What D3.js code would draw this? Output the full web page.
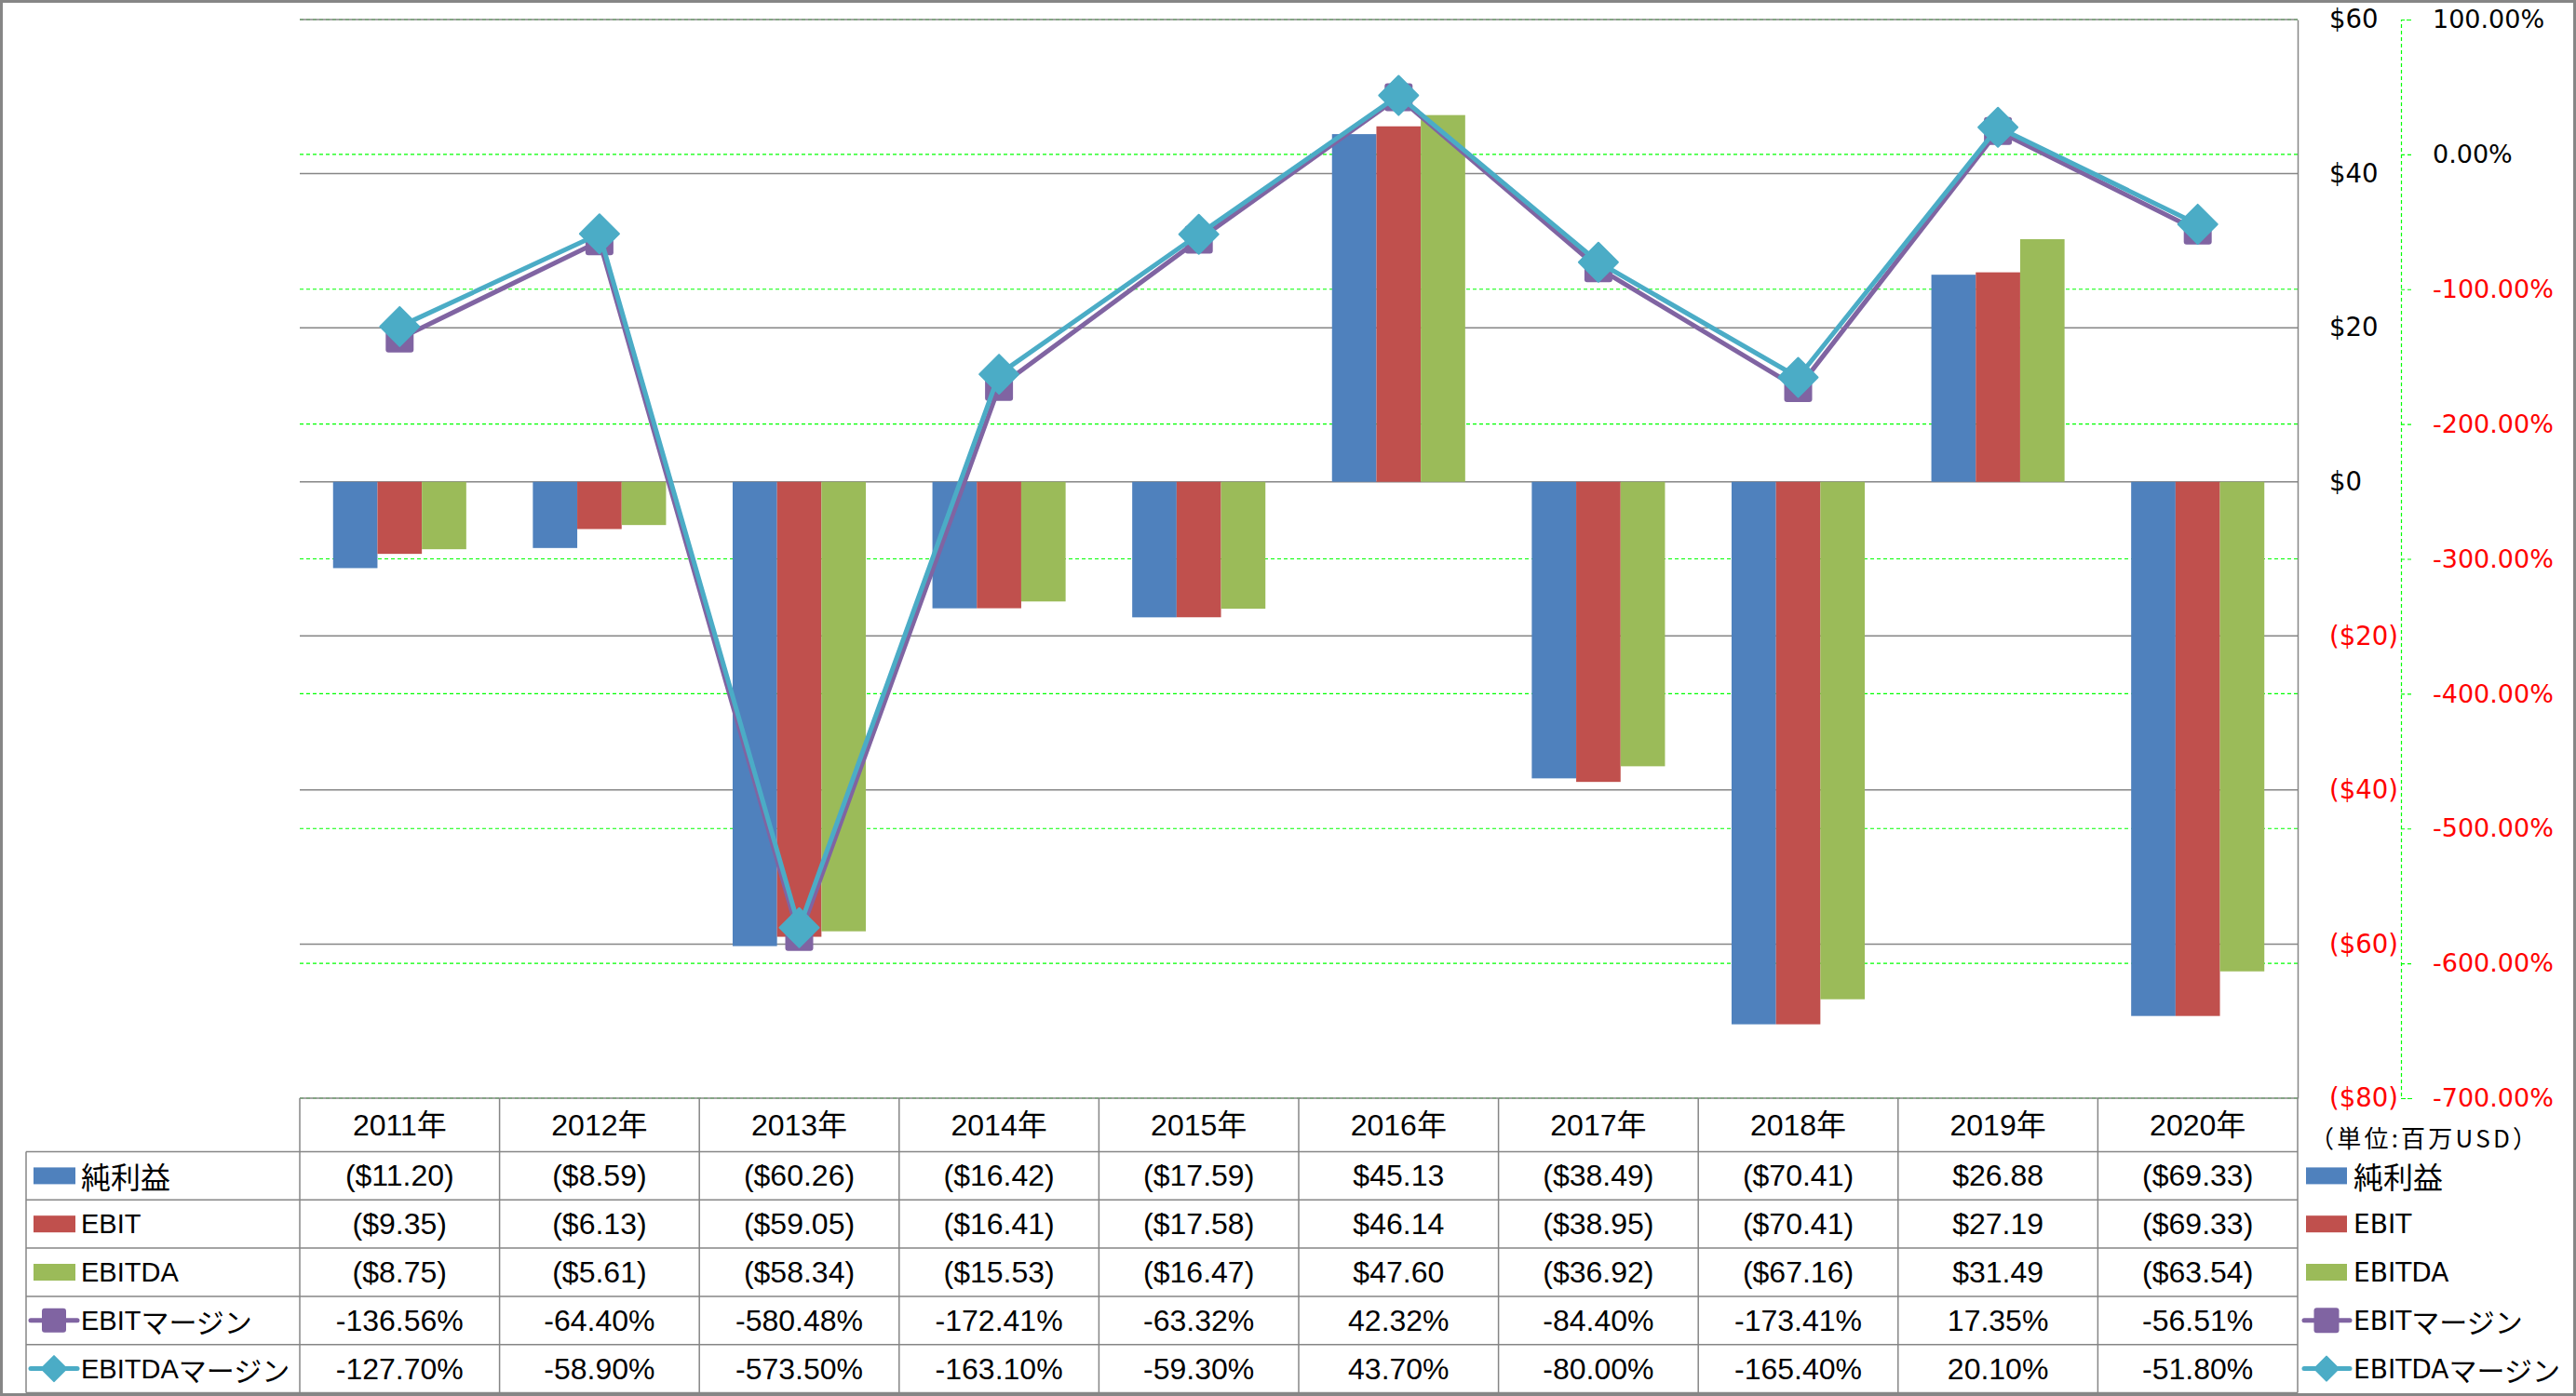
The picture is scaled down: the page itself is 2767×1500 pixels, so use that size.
<!DOCTYPE html>
<html>
<head>
<meta charset="utf-8">
<script src="https://cdn.jsdelivr.net/npm/d3@7"></script>
<style>
  html, body { margin: 0; padding: 0; background: #fff; }
  svg { display: block; }
</style>
</head>
<body>
<svg id="chart" width="2767" height="1500"></svg>
<script>
// ---------------- DATA ----------------
const categories = ['2011年','2012年','2013年','2014年','2015年','2016年','2017年','2018年','2019年','2020年'];
const netIncome   = [-11.20, -8.59, -60.26, -16.42, -17.59, 45.13, -38.49, -70.41, 26.88, -69.33];
const ebit        = [-9.35, -6.13, -59.05, -16.41, -17.58, 46.14, -38.95, -70.41, 27.19, -69.33];
const ebitda      = [-8.75, -5.61, -58.34, -15.53, -16.47, 47.60, -36.92, -67.16, 31.49, -63.54];
const ebitMargin   = [-136.56, -64.40, -580.48, -172.41, -63.32, 42.32, -84.40, -173.41, 17.35, -56.51];
const ebitdaMargin = [-127.70, -58.90, -573.50, -163.10, -59.30, 43.70, -80.00, -165.40, 20.10, -51.80];
const barSeriesNames  = ['純利益', 'EBIT', 'EBITDA'];
const lineSeriesNames = ['EBITマージン', 'EBITDAマージン'];
const dollarTicks = [60, 40, 20, 0, -20, -40, -60, -80];
const pctTicks = [100, 0, -100, -200, -300, -400, -500, -600, -700];
const unitLabel = '（単位:百万USD）';

// ---------------- STYLE ----------------
const barColors = ['#4F81BD', '#C0504D', '#9BBB59'];
const lineColors = ['#8064A2', '#4BACC6'];
const gray = '#868686';
const green = '#00FF00';
const tableFont = '"Liberation Sans", Arial, "Noto Sans CJK JP", sans-serif';
const axisFont = '"DejaVu Sans", Verdana, "Noto Sans CJK JP", sans-serif';
const cjkFont = '"Noto Sans CJK JP", sans-serif';

const svg = d3.select('#chart');
const plotL = 322, plotR = 2468, plotT = 21, plotB = 1180;

const x = d3.scaleBand().domain(categories).range([plotL, plotR]).paddingInner(0).paddingOuter(0);
const xSub = d3.scaleBand().domain([0, 1, 2]).range([0, x.bandwidth()]).paddingInner(0).paddingOuter(0.75);
const y = d3.scaleLinear().domain([-80, 60]).range([plotB, plotT]);
const yp = d3.scaleLinear().domain([-700, 100]).range([plotB, plotT]);

// outer border
svg.append('rect').attr('x', 1.5).attr('y', 1.5).attr('width', 2764).attr('height', 1497)
  .attr('fill', '#fff').attr('stroke', gray).attr('stroke-width', 3);

// gridlines (secondary, dashed green)
svg.append('g').selectAll('line').data(pctTicks).join('line')
  .attr('x1', plotL).attr('x2', plotR)
  .attr('y1', d => yp(d)).attr('y2', d => yp(d))
  .attr('stroke', green).attr('stroke-width', 1.2).attr('stroke-dasharray', '4,3');

// gridlines (primary, gray)
svg.append('g').selectAll('line').data(dollarTicks.filter(d => d !== -80)).join('line')
  .attr('x1', plotL).attr('x2', plotR)
  .attr('y1', d => y(d)).attr('y2', d => y(d))
  .attr('stroke', gray).attr('stroke-width', 1.5);

// bars
const barData = [netIncome, ebit, ebitda];
const gBars = svg.append('g');
barData.forEach((series, si) => {
  gBars.append('g').selectAll('rect').data(series).join('rect')
    .attr('x', (d, i) => x(categories[i]) + xSub(si))
    .attr('width', xSub.bandwidth())
    .attr('y', d => Math.min(y(d), y(0)))
    .attr('height', d => Math.abs(y(d) - y(0)))
    .attr('fill', barColors[si]);
});

// lines
const lineData = [ebitMargin, ebitdaMargin];
const lineGen = d3.line().x((d, i) => x(categories[i]) + x.bandwidth() / 2).y(d => yp(d));
function marker(g, type, cx, cy, size, color) {
  if (type === 0) {
    g.append('rect').attr('x', cx - size / 2).attr('y', cy - size / 2)
      .attr('width', size).attr('height', size).attr('rx', 3).attr('fill', color);
  } else {
    const h = size / 2;
    g.append('path').attr('d', `M${cx},${cy - h}L${cx + h},${cy}L${cx},${cy + h}L${cx - h},${cy}Z`)
      .attr('fill', color).attr('stroke', color).attr('stroke-width', 2).attr('stroke-linejoin', 'round');
  }
}
lineData.forEach((series, si) => {
  const g = svg.append('g');
  g.append('path').datum(series).attr('d', lineGen)
    .attr('fill', 'none').attr('stroke', lineColors[si]).attr('stroke-width', 5)
    .attr('stroke-linejoin', 'round');
  series.forEach((d, i) => {
    marker(g, si, x(categories[i]) + x.bandwidth() / 2, yp(d), si === 0 ? 30 : 42, lineColors[si]);
  });
});

// primary axis (right, $)
const fmtDollar = v => v < 0 ? `($${Math.abs(v)})` : `$${v}`;
const axY = svg.append('g').attr('transform', `translate(${plotR},0)`)
  .call(d3.axisRight(y).tickValues(dollarTicks).tickFormat(fmtDollar).tickSize(0).tickPadding(34));
axY.select('.domain').attr('stroke', gray).attr('stroke-width', 1.5);
axY.selectAll('text').attr('font-family', axisFont).attr('font-size', 27.5)
  .attr('fill', d => d < 0 ? '#FF0000' : '#000');

// secondary axis (right, %)
const axP = svg.append('g').attr('transform', `translate(2579,0)`)
  .call(d3.axisRight(yp).tickValues(pctTicks).tickFormat(v => `${v.toFixed(2)}%`).tickSize(12).tickPadding(22));
axP.select('.domain').attr('stroke', green).attr('stroke-width', 1.2).attr('stroke-dasharray', '4,3');
axP.selectAll('line').attr('stroke', green).attr('stroke-width', 1.2).attr('stroke-dasharray', '4,3');
axP.selectAll('text').attr('font-family', axisFont).attr('font-size', 27)
  .attr('fill', d => d < 0 ? '#FF0000' : '#000');

// unit label
svg.append('text').attr('x', 2481).attr('y', 1221).attr('dominant-baseline', 'central')
  .attr('font-family', cjkFont).attr('font-size', 26)
  .attr('textLength', 244).attr('lengthAdjust', 'spacing').text(unitLabel);

// mixed-script text: Latin run in latinFont, kanji / kana runs in CJK font
function mixedText(g, tx, ty, str, latinFont, latinSize) {
  const t = g.append('text').attr('x', tx).attr('y', ty).attr('dominant-baseline', 'central');
  const runs = str.match(/[\u4E00-\u9FFF]+|[\u3040-\u30FF]+|[^\u3040-\u30FF\u4E00-\u9FFF]+/g);
  runs.forEach(r => {
    const s = t.append('tspan').text(r);
    if (/[\u4E00-\u9FFF]/.test(r)) s.attr('font-family', cjkFont).attr('font-size', 32);
    else if (/[\u3040-\u30FF]/.test(r)) s.attr('font-family', cjkFont).attr('font-size', 30);
    else s.attr('font-family', latinFont).attr('font-size', latinSize);
  });
  return t;
}

// ---------------- DATA TABLE ----------------
const rowTop = 1237.5, rowH = 51.8, headTop = plotB;
const rowYs = d3.range(6).map(i => rowTop + i * rowH);
const gT = svg.append('g');
gT.append('line').attr('x1', plotL).attr('x2', plotR).attr('y1', headTop).attr('y2', headTop)
  .attr('stroke', gray).attr('stroke-width', 1.5);
rowYs.forEach(yy => gT.append('line').attr('x1', 28).attr('x2', plotR).attr('y1', yy).attr('y2', yy)
  .attr('stroke', gray).attr('stroke-width', 1.5));
gT.append('line').attr('x1', 28).attr('x2', 28).attr('y1', rowTop).attr('y2', rowYs[5])
  .attr('stroke', gray).attr('stroke-width', 1.5);
const colEdges = categories.map(c => x(c)).concat([plotR]);
colEdges.forEach(cx => gT.append('line').attr('x1', cx).attr('x2', cx).attr('y1', headTop).attr('y2', rowYs[5])
  .attr('stroke', gray).attr('stroke-width', 1.5));

// header
gT.selectAll('text.head').data(categories).join('text').attr('class', 'head')
  .attr('x', d => x(d) + x.bandwidth() / 2).attr('y', (headTop + rowTop) / 2)
  .attr('text-anchor', 'middle').attr('dominant-baseline', 'central')
  .attr('font-family', tableFont).attr('font-size', 32).text(d => d);

const fix2 = v => Math.abs(v).toFixed(2);
const fmtMoney = v => v < 0 ? `($${fix2(v)})` : `$${fix2(v)}`;
const fmtPct = v => `${v < 0 ? '-' : ''}${fix2(v)}%`;
const tableRows = [
  { name: barSeriesNames[0], vals: netIncome, f: fmtMoney, kind: 'bar', c: barColors[0] },
  { name: barSeriesNames[1], vals: ebit, f: fmtMoney, kind: 'bar', c: barColors[1] },
  { name: barSeriesNames[2], vals: ebitda, f: fmtMoney, kind: 'bar', c: barColors[2] },
  { name: lineSeriesNames[0], vals: ebitMargin, f: fmtPct, kind: 'sq', c: lineColors[0] },
  { name: lineSeriesNames[1], vals: ebitdaMargin, f: fmtPct, kind: 'dia', c: lineColors[1] },
];
tableRows.forEach((r, ri) => {
  const cy = rowYs[ri] + rowH / 2;
  gT.append('g').selectAll('text').data(r.vals).join('text')
    .attr('x', (d, i) => x(categories[i]) + x.bandwidth() / 2).attr('y', cy)
    .attr('text-anchor', 'middle').attr('dominant-baseline', 'central')
    .attr('font-family', tableFont).attr('font-size', 32).text(d => r.f(d));
  // left legend key
  const lg = gT.append('g');
  if (r.kind === 'bar') {
    lg.append('rect').attr('x', 36).attr('y', cy - 9).attr('width', 45).attr('height', 18).attr('fill', r.c);
  } else {
    lg.append('line').attr('x1', 33).attr('x2', 83).attr('y1', cy).attr('y2', cy)
      .attr('stroke', r.c).attr('stroke-width', 5).attr('stroke-linecap', 'round');
    marker(lg, r.kind === 'sq' ? 0 : 1, 58, cy, r.kind === 'sq' ? 26 : 27, r.c);
  }
  mixedText(lg, 87, cy, r.name, tableFont, 29);
  // right legend
  const rg = svg.append('g');
  if (r.kind === 'bar') {
    rg.append('rect').attr('x', 2477).attr('y', cy - 9).attr('width', 44).attr('height', 18).attr('fill', r.c);
  } else {
    rg.append('line').attr('x1', 2475).attr('x2', 2524).attr('y1', cy).attr('y2', cy)
      .attr('stroke', r.c).attr('stroke-width', 5).attr('stroke-linecap', 'round');
    marker(rg, r.kind === 'sq' ? 0 : 1, 2499, cy, r.kind === 'sq' ? 27 : 26, r.c);
  }
  mixedText(rg, 2528, cy, r.name, axisFont, 28);
});
</script>
</body>
</html>
